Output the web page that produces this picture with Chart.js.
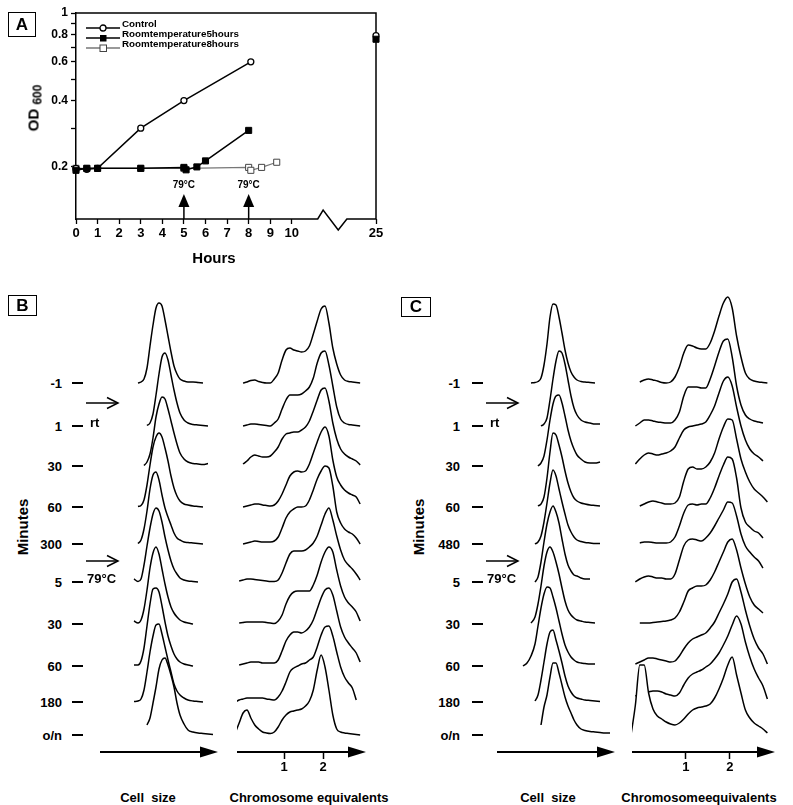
<!DOCTYPE html>
<html>
<head>
<meta charset="utf-8">
<title>Growth curve and flow cytometry</title>
<script src="https://cdn.jsdelivr.net/npm/chart.js@4.4.1/dist/chart.umd.min.js"></script>
<style>
  html, body { margin: 0; background: #fff; }
  #fig { position: relative; width: 793px; height: 805px; overflow: hidden;
         font-family: 'Liberation Sans', Arial, Helvetica, sans-serif; font-weight: bold; color: #000; }
  #fig canvas { position: absolute; }
  .t { position: absolute; white-space: pre; line-height: 1; }
  .panel { position: absolute; border: 1.5px solid #000; box-sizing: border-box; font-size: 17px;
           display: flex; align-items: center; justify-content: center; }
  .dash { position: absolute; width: 11px; height: 2px; background: #000; }
</style>
</head>
<body>
<div id="fig">
  <canvas id="chartA" width="400" height="270" style="left:0;top:0"></canvas>
  <canvas id="cellB" width="118" height="502" style="left:100px;top:280px"></canvas>
  <canvas id="dnaB" width="129" height="502" style="left:237px;top:280px"></canvas>
  <canvas id="cellC" width="118" height="502" style="left:497px;top:280px"></canvas>
  <canvas id="dnaC" width="143" height="502" style="left:632px;top:280px"></canvas>
  <div class="panel" style="left:8px;top:12px;width:28px;height:25px">A</div>
  <div class="panel" style="left:8px;top:295px;width:29px;height:21px">B</div>
  <div class="panel" style="left:401px;top:297px;width:30px;height:20px">C</div>
</div>
<script>
// ---------- panel A: OD600 growth curves ----------
const seriesNames = ['Control', 'Roomtemperature5hours', 'Roomtemperature8hours']
const hoursCtrl = [0, 0.5, 1, 3, 5, 8.1]
const odCtrl = [0.197, 0.195, 0.197, 0.3, 0.4, 0.6]
const hoursRt5 = [0, 0.5, 1, 3, 5, 5.1, 5.6, 6, 8]
const odRt5 = [0.193, 0.197, 0.197, 0.197, 0.199, 0.194, 0.2, 0.213, 0.293]
const hoursRt8 = [0, 0.5, 1, 3, 5, 8, 8.1, 8.6, 9.3]
const odRt8 = [0.197, 0.197, 0.197, 0.197, 0.197, 0.199, 0.193, 0.199, 0.21]
const hoursLate = [25]
const odCtrlLate = [0.79]
const odRt5Late = [0.76]
const shiftHours = [5, 8]
const hourTicks = [0, 1, 2, 3, 4, 5, 6, 7, 8, 9, 10, 25]
const odTicks = [0.2, 0.3, 0.4, 0.5, 0.6, 0.7, 0.8, 0.9, 1]
const odLabelled = [0.2, 0.4, 0.6, 0.8, 1]

// ---------- panels B and C: stacked histograms ----------
const minutesB = ['-1', '1', '30', '60', '300', '5', '30', '60', '180', 'o/n']
const minutesC = ['-1', '1', '30', '60', '480', '5', '30', '60', '180', 'o/n']
const shiftRows = [1, 5]
const shiftText = ['rt', '79°C']
const dnaTicks = [1, 2]
const cellGrid = [26, 30, 34, 38, 41, 44, 47, 50, 53, 56, 59, 62, 65, 68, 71, 74, 77, 80, 84, 88, 93, 98, 103, 108, 113, 118]
const dnaGrid = [-0.25, -0.15, -0.05, 0.05, 0.15, 0.25, 0.35, 0.45, 0.55, 0.65, 0.75, 0.85, 0.95, 1.05, 1.15, 1.25,
  1.35, 1.45, 1.55, 1.65, 1.75, 1.85, 1.95, 2.05, 2.15, 2.25, 2.35, 2.45, 2.55, 2.65, 2.75, 2.85, 2.95]
const _ = null

const cellB = [
  [_,_,_,0,1,4,15,37,58,75,80,77,63,47,31,17,9,4,2,1,1,0.5,0,_,_,_],
  [_,_,_,_,_,_,0.5,3,12,31,52,69,73,66,51,36,23,13,6,3,1.5,1,0.5,0,_,_],
  [_,_,_,_,_,0.5,4,12,28,49,62,69,67,57,45,33,22,13,7,4,2.5,2,1.5,2.5,_,_],
  [_,_,_,0.5,1.5,7,22,42,60,70,74,70,59,46,31,19,11,6,3,2,1,0.5,0,_,_,_],
  [_,_,_,0.5,4,15,33,55,69,72,64,49,36,27,19,11,6,4,2,1.5,1,0.5,0,_,_,_],
  [_,_,3,0.5,3,17,36,54,68,74,71,60,45,32,21,13,8,4,2,1,0.5,0,_,_,_,_],
  [_,_,3,1,4,15,34,56,71,77,70,55,40,27,17,11,7,4,2,1,0,_,_,_,_,_],
  [_,_,1,1,5,18,40,62,77,78,74,60,44,30,20,12,7,4,2,1,0,_,_,_,_,_],
  [_,_,0.5,1,3,12,30,50,66,77,78,68,55,42,30,18,11,7,4,2,1,0.5,0,_,_,_],
  [_,_,_,_,_,_,10,17,32,48,66,75,77,70,60,48,32,20,11,5,3,2,1.5,1,0.5,_]
]
const dnaB = [
  [_,_,0,1,2.5,3,1.5,0.5,0,0,4,10,23,33,35,33,32,31,32,37,49,62,74,77,60,35,19,8,3,1.5,1,0.5,0],
  [_,_,0,1,2,2,1.5,1,0.5,0,3,7,17,26,31,31,31,32,35,39,48,63,73,75,61,40,19,7,3,1.5,1,0.5,0],
  [_,_,2,5,9,11,10,9,9,10,14,19,27,32,33,34,34,36,39,45,55,66,76,78,65,43,27,17,12,9,7,5,1],
  [_,_,0,1,2,3,3,2,1.5,1,2,6,13,22,31,35,36,35,36,43,54,65,75,80,71,47,30,22,17,14,12,10,3],
  [_,_,0,1,2,3,2.5,2,2,2,3,7,16,26,32,35,37,37,38,44,54,65,73,78,76,58,32,21,15,12,10,6,0],
  [_,1,2,3,3,2.5,2,1.5,1,0.5,0.5,2,9,19,28,31,31,31,32,35,39,46,57,68,74,62,46,32,22,17,13,8,2],
  [_,1,1.5,2,2,2,2,2,1.5,1,0.5,3,9,20,28,32,33,33,33,33,39,49,62,72,77,72,54,38,27,21,17,12,3],
  [_,1,2,3,4,4,4,3,3,3,3,6,15,25,31,34,34,33,35,39,46,57,68,76,78,71,55,39,29,23,18,13,4],
  [0,2,3,4,4,4,4,4,3,2.5,2,5,11,20,30,34,36,38,39,42,45,55,67,75,76,66,50,35,25,19,14,2,_],
  [2,12,22,25,17,10,6,3,2,1.5,3,8,15,20,23,24,25,26,29,34,45,65,80,68,45,20,6,3,2,1.5,1,0.5,0]
]
const cellC = [
  [_,_,0,0.5,1.5,5,18,39,66,79,78,66,50,33,20,11,6,3,1.5,1,0.5,0,_,_,_,_],
  [_,_,_,_,_,0,2,8,26,47,65,75,73,62,46,30,18,11,6,4,3,2,2,_,_,_],
  [_,_,_,_,0,3,10,26,46,62,70,71,63,50,36,25,17,11,7,4,3,3,4,_,_,_],
  [_,_,_,_,1,3,10,29,55,74,72,62,50,36,24,15,9,6,4,3,2,1.5,1,_,_,_],
  [_,_,_,0,2,8,22,41,61,74,68,55,42,30,19,12,7,4,2.5,1.5,1,0.5,0.5,_,_,_],
  [_,_,_,0,5,20,40,58,70,76,70,59,43,28,17,11,7,6,4,3,3,_,_,_,_,_],
  [_,_,1,7,20,38,58,72,77,72,62,50,36,23,14,9,6,4,3,2,1.5,1,_,_,_,_],
  [0,3,10,22,40,58,72,79,78,69,58,45,32,21,14,9,6,4,3,2.5,2,2,_,_,_,_],
  [_,_,_,1,7,22,40,58,70,72,62,51,39,26,16,10,6,4,3,2,1.5,1,0.5,_,_,_],
  [_,_,_,_,_,10,28,40,58,72,72,62,50,38,29,22,15,10,6,4.5,3.5,3,2.5,2,2,_]
]
const dnaC = [
  [_,_,1,3,4,3,2,0.5,0,1,6,16,30,38,37,35,34,34,40,52,67,80,86,75,47,26,10,4,2,1,0.5,0,_],
  [_,0,3,6,6,5,4,3.5,3,3,6,14,30,39,39,39,38,38,47,60,74,85,87,69,40,21,11,7,5,4,3,_,_],
  [_,2,7,11,13,12,11,12,13,15,19,28,36,39,40,41,42,44,51,60,73,85,89,80,59,40,26,17,12,9,5,_,_],
  [_,_,1,3,5,6,5,4,3,3,4,10,26,38,40,38,38,40,45,54,68,80,88,87,68,48,35,25,18,14,10,5,_],
  [_,_,1,2,2,1.5,1,1,1,2,7,18,31,39,40,39,40,40,46,56,68,79,87,85,66,36,22,17,13,11,6,_,_],
  [_,0,3,5,6,5,4,4,3,3,8,22,36,42,43,42,41,44,49,56,64,72,80,79,66,48,36,30,25,21,14,_,_],
  [_,_,1,1,1,1.5,2,2.5,3,4,6,12,22,33,36,38,38,39,44,52,62,72,82,85,74,56,40,27,19,15,11,_,_],
  [_,2,4,6,8,8,7,6,5,4,5,10,17,23,27,29,31,33,38,44,53,62,72,84,87,74,56,40,27,18,12,2,_],
  [_,6,8,9,10,11,11,10,8,7,6,9,17,24,28,30,32,35,38,43,49,57,66,77,86,78,60,45,33,24,16,3,_],
  [0,30,70,70,42,26,19,16,13,11,10,12,16,21,25,27,28,29,31,37,46,57,70,78,60,42,25,17,12,9,6,2,_]
]

// layout: vertical offset of each histogram's baseline (chart units = px)
const rowOffsets = [352, 309, 269, 228, 191, 153, 111, 69, 33, 0]
const FONT = "'Liberation Sans', Arial, Helvetica, sans-serif"
Chart.defaults.font.family = FONT
Chart.defaults.font.weight = 'bold'
Chart.defaults.color = '#000'

const fig = document.getElementById('fig')
function addText(txt, css) {
  const d = document.createElement('div')
  d.className = 't'
  d.textContent = txt
  Object.assign(d.style, css)
  fig.appendChild(d)
  return d
}

// hours 10..25 are squeezed behind the axis break
const axisPos = h => (h <= 10 ? h : 10 + (h - 10) * 0.26)
const pts = (xs, ys) => xs.map((x, i) => ({ x: axisPos(x), y: ys[i] }))

const frameA = {
  id: 'frameA',
  beforeDatasetsDraw(chart) {
    const { ctx, chartArea: a, scales: { x } } = chart
    ctx.save()
    ctx.strokeStyle = '#000'
    ctx.fillStyle = '#000'
    ctx.lineWidth = 1.5
    ctx.beginPath()
    ctx.moveTo(a.left, a.top)
    ctx.lineTo(a.right, a.top)
    ctx.lineTo(a.right, a.bottom)
    ctx.lineTo(x.getPixelForValue(12.55), a.bottom)
    ctx.lineTo(x.getPixelForValue(12.15), a.bottom + 11)
    ctx.lineTo(x.getPixelForValue(11.45), a.bottom - 9)
    ctx.lineTo(x.getPixelForValue(11.2), a.bottom)
    ctx.lineTo(a.left, a.bottom)
    ctx.stroke()
    // temperature shift arrows
    ctx.font = 'bold 10px ' + FONT
    ctx.textAlign = 'center'
    ctx.textBaseline = 'middle'
    shiftHours.forEach(h => {
      const px = x.getPixelForValue(axisPos(h))
      ctx.beginPath()
      ctx.moveTo(px, a.bottom)
      ctx.lineTo(px, a.bottom - 13)
      ctx.stroke()
      ctx.beginPath()
      ctx.moveTo(px - 5.5, a.bottom - 12)
      ctx.lineTo(px + 5.5, a.bottom - 12)
      ctx.lineTo(px, a.bottom - 25)
      ctx.closePath()
      ctx.fill()
      ctx.fillText('79°C', px, a.bottom - 34)
    })
    ctx.restore()
  }
}

const openCircle = { pointStyle: 'circle', pointRadius: 3, pointBackgroundColor: '#fff', pointBorderColor: '#000', pointBorderWidth: 1.3 }
const filledSquare = { pointStyle: 'rect', pointRadius: 4.3, pointBackgroundColor: '#000', pointBorderColor: '#000', pointBorderWidth: 1 }
const openSquare = { pointStyle: 'rect', pointRadius: 4.3, pointBackgroundColor: '#fff', pointBorderColor: '#444', pointBorderWidth: 1 }

new Chart(document.getElementById('chartA'), {
  type: 'line',
  data: {
    datasets: [
      { data: pts(hoursRt5, odRt5), borderColor: '#000', borderWidth: 1.5, ...filledSquare },
      { data: pts(hoursCtrl, odCtrl), borderColor: '#000', borderWidth: 1.5, ...openCircle },
      { data: pts(hoursRt8, odRt8), borderColor: '#777', borderWidth: 1.2, ...openSquare },
      { data: pts(hoursLate, odRt5Late), showLine: false, ...filledSquare },
      { data: pts(hoursLate, odCtrlLate), showLine: false, ...openCircle }
    ]
  },
  options: {
    responsive: false,
    animation: false,
    events: [],
    clip: false,
    layout: { padding: { top: 13, right: 24, left: 0, bottom: 0 } },
    plugins: { legend: { display: false }, tooltip: { enabled: false } },
    scales: {
      x: {
        type: 'linear', min: 0, max: axisPos(25),
        afterBuildTicks: s => { s.ticks = hourTicks.map(h => ({ value: axisPos(h) })) },
        afterFit: s => { s.height = 51 },
        ticks: { callback: (v, i) => hourTicks[i], font: { size: 13, weight: 'bold' }, padding: 2, maxRotation: 0, autoSkip: false },
        grid: { drawOnChartArea: false, tickLength: 5, tickColor: '#000', tickWidth: 1.3 },
        border: { display: false }
      },
      y: {
        type: 'logarithmic', min: 0.116, max: 1,
        afterBuildTicks: s => { s.ticks = odTicks.map(v => ({ value: v })) },
        afterFit: s => { s.width = 76 },
        ticks: { callback: v => (odLabelled.includes(v) ? String(v) : ''), font: { size: 12, weight: 'bold' }, padding: 3, autoSkip: false },
        grid: { drawOnChartArea: false, tickLength: 5, tickColor: '#000', tickWidth: 1.3 },
        border: { display: true, color: '#000', width: 1.5 }
      }
    }
  },
  plugins: [frameA]
})

// legend of panel A
const legendMarks = [
  '<circle cx="17" cy="5" r="3" fill="#fff" stroke="#000" stroke-width="1.3"/>',
  '<rect x="14" y="2" width="6.5" height="6.5" fill="#000"/>',
  '<rect x="14" y="2" width="6.5" height="6.5" fill="#fff" stroke="#444" stroke-width="1"/>'
]
const legendLine = ['#000', '#000', '#777']
seriesNames.forEach((name, i) => {
  const y = 24 + i * 10.2
  const s = document.createElement('div')
  s.style.cssText = `position:absolute;left:86px;top:${y - 5}px;width:35px;height:10px`
  s.innerHTML = `<svg width="35" height="10"><line x1="0" y1="5" x2="34" y2="5" stroke="${legendLine[i]}" stroke-width="1.3"/>${legendMarks[i]}</svg>`
  fig.appendChild(s)
  addText(name, { left: '122px', top: y + 'px', fontSize: '9.8px', transform: 'translateY(-50%)' })
})
addText('Hours', { left: '214px', top: '257px', fontSize: '15px', transform: 'translate(-50%,-50%)' })
const od = addText('', { left: '33px', top: '108px', fontSize: '15px', transform: 'translate(-50%,-50%) rotate(-90deg)' })
od.innerHTML = 'OD <span style="font-size:12px;position:relative;top:3px">600</span>'

// ---------- stacked histogram charts ----------
const arrowAxis = {
  id: 'arrowAxis',
  afterDatasetsDraw(chart) {
    const { ctx, chartArea: a } = chart
    ctx.save()
    ctx.strokeStyle = '#000'
    ctx.fillStyle = '#000'
    ctx.lineWidth = 2
    ctx.beginPath()
    ctx.moveTo(a.left, a.bottom)
    ctx.lineTo(a.right - 14, a.bottom)
    ctx.stroke()
    ctx.beginPath()
    ctx.moveTo(a.right - 18, a.bottom - 5.5)
    ctx.lineTo(a.right, a.bottom)
    ctx.lineTo(a.right - 18, a.bottom + 5.5)
    ctx.closePath()
    ctx.fill()
    ctx.restore()
  }
}

function stackChart(id, grid, rows, xMin, xMax, withTicks) {
  const datasets = rows.map((vals, i) => ({
    data: grid.map((x, j) => (vals[j] === null ? null : { x, y: rowOffsets[i] + vals[j] })).filter(p => p),
    fill: { value: rowOffsets[i] },
    backgroundColor: '#fff',
    borderColor: '#000',
    borderWidth: 1.5,
    pointRadius: 0,
    cubicInterpolationMode: 'monotone',
    order: rows.length - 1 - i
  }))
  return new Chart(document.getElementById(id), {
    type: 'line',
    data: { datasets },
    options: {
      responsive: false,
      animation: false,
      events: [],
      layout: { padding: 0 },
      plugins: { legend: { display: false }, tooltip: { enabled: false } },
      scales: {
        x: {
          type: 'linear', min: xMin, max: xMax,
          afterBuildTicks: s => { s.ticks = dnaTicks.map(v => ({ value: v })) },
          afterFit: s => { s.height = 30 },
          ticks: { display: withTicks, callback: v => String(v), font: { size: 13, weight: 'bold' }, padding: 1, maxRotation: 0, autoSkip: false },
          grid: { display: withTicks, drawOnChartArea: false, tickLength: 7, tickColor: '#000', tickWidth: 1.5 },
          border: { display: false }
        },
        y: { display: false, min: -17, max: 455 }
      }
    },
    plugins: [arrowAxis]
  })
}

const panels = [
  { cell: stackChart('cellB', cellGrid, cellB, 0, 118, false),
    dna: stackChart('dnaB', dnaGrid, dnaB, -0.205, 3.1, true),
    labels: minutesB, labelRight: 62, dashLeft: 72, arrowLeft: 86, minutesX: 22,
    cellX: 148, dnaX: 309, dnaTitle: 'Chromosome equivalents' },
  { cell: stackChart('cellC', cellGrid, cellC, 0, 118, false),
    dna: stackChart('dnaC', dnaGrid, dnaC, -0.227, 3.023, true),
    labels: minutesC, labelRight: 460, dashLeft: 472, arrowLeft: 486, minutesX: 418,
    cellX: 548, dnaX: 699, dnaTitle: 'Chromosomeequivalents' }
]

panels.forEach(p => {
  const top = 280
  const rowY = rowOffsets.map(o => top + p.dna.scales.y.getPixelForValue(o))
  p.labels.forEach((txt, i) => {
    addText(txt, { right: (793 - p.labelRight) + 'px', top: rowY[i] + 'px', fontSize: '13px', transform: 'translateY(-50%)' })
    const d = document.createElement('div')
    d.className = 'dash'
    d.style.left = p.dashLeft + 'px'
    d.style.top = (rowY[i] - 1) + 'px'
    fig.appendChild(d)
  })
  shiftRows.forEach((r, k) => {
    const ay = (rowY[r - 1] + rowY[r]) / 2 - 2
    const s = document.createElement('div')
    s.style.cssText = `position:absolute;left:${p.arrowLeft}px;top:${ay - 7}px;width:34px;height:14px`
    s.innerHTML = '<svg width="34" height="14"><line x1="0" y1="7" x2="32" y2="7" stroke="#000" stroke-width="1.5"/>' +
      '<polyline points="21,1.5 32,7 21,12.5" fill="none" stroke="#000" stroke-width="1.5"/></svg>'
    fig.appendChild(s)
    addText(shiftText[k], { left: (p.arrowLeft + (k === 0 ? 4 : 1)) + 'px', top: (rowY[r] - 4) + 'px', fontSize: '13px', transform: 'translateY(-50%)' })
  })
  addText('Minutes', { left: p.minutesX + 'px', top: '527px', fontSize: '15px', transform: 'translate(-50%,-50%) rotate(-90deg)' })
  addText('Cell  size', { left: p.cellX + 'px', top: '797px', fontSize: '13px', transform: 'translate(-50%,-50%)' })
  addText(p.dnaTitle, { left: p.dnaX + 'px', top: '797px', fontSize: '13px', transform: 'translate(-50%,-50%)' })
})
</script>
</body>
</html>
